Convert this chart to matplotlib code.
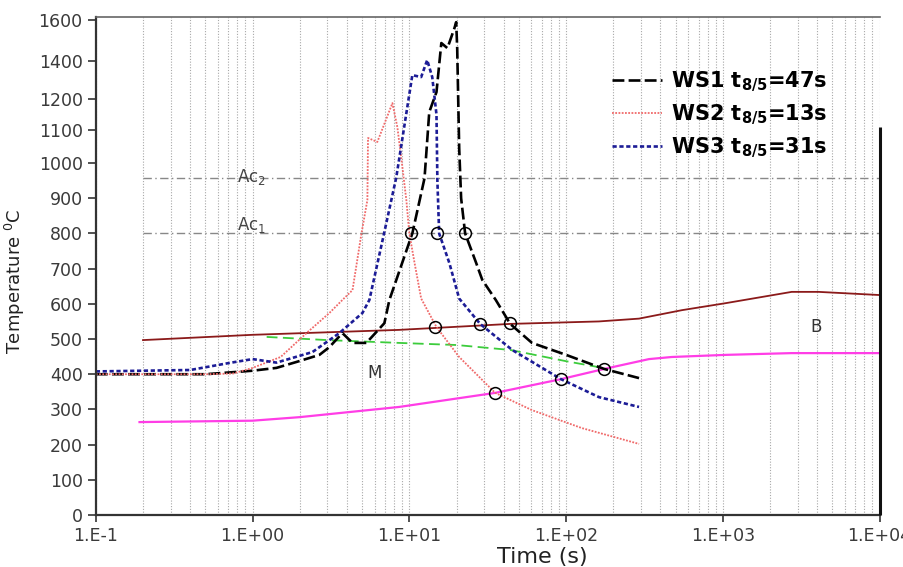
import numpy as np
import matplotlib
matplotlib.use('Agg')
import matplotlib.pyplot as plt
from matplotlib.ticker import LogLocator, FixedLocator, NullFormatter

# ------------------------------ data
# WS1 t8/5=47s
ws1_t = [0.1, 0.5, 1.0, 1.42, 1.91, 2.67, 3.09, 3.74, 4.34, 5.32, 6.16, 6.93, 7.46, 8.26,
         10.45, 12.5, 13.4, 14.9, 16.0, 17.5, 19.4, 19.9, 20.2, 20.8, 21.4, 22.7, 26.7,
         29.2, 35.6, 44.0, 60.6, 100, 175, 292]
ws1_T = [400, 400, 410, 418, 435, 455, 477, 517, 489, 489, 520, 545, 611, 668,
         800, 957, 1158, 1237, 1488, 1463, 1561, 1590, 1463, 1045, 900, 800, 716,
         668, 611, 543, 489, 455, 415, 389]
# WS2 t8/5=13s
ws2_t = [0.1, 0.5, 0.75, 1.0, 1.51, 2.21, 3.09, 3.74, 4.34, 4.95, 5.40, 5.45, 6.25, 7.8,
         8.39, 9.02, 9.57, 10.0, 10.8, 11.9, 14.9, 20.8, 35.3, 60.6, 126, 292]
ws2_T = [400, 400, 402, 418, 449, 517, 574, 611, 639, 800, 895, 1076, 1064, 1187,
         1109, 990, 895, 800, 716, 615, 534, 449, 347, 298, 247, 202]
# WS3 t8/5=31s
ws3_t = [0.1, 0.4, 0.71, 1.0, 1.42, 2.41, 3.58, 5.02, 5.56, 6.93, 8.26, 10.45, 11.9,
         13.0, 14.0, 14.9, 15.1, 15.5, 18.0, 20.8, 28.3, 45.3, 92.8, 162, 292]
ws3_T = [408, 412, 432, 443, 433, 463, 517, 574, 611, 804, 960, 1326, 1316,
         1405, 1316, 1150, 950, 800, 716, 615, 543, 469, 386, 335, 307]
# bainite start (B)
bs_t = [0.2, 1.0, 8.6, 44, 162, 292, 548, 1045, 2750, 4080, 10000]
bs_T = [497, 512, 526, 543, 550, 558, 582, 602, 634, 634, 625]
# bainite finish
bf_t = [0.19, 1.0, 1.99, 8.6, 35.3, 92.8, 175, 338, 473, 1045, 2750, 10000]
bf_T = [264, 268, 278, 307, 347, 386, 415, 443, 449, 455, 460, 460]
# martensite (M)
ms_t = [1.23, 3.0, 8.6, 20, 44, 100, 162]
ms_T = [506, 497, 489, 483, 469, 437, 420]
# transformation points
circ_t = [10.3, 15.1, 22.7, 14.6, 28.3, 44.0, 35.3, 92.8, 175]
circ_T = [800, 800, 800, 534, 543, 545, 347, 386, 415]
Ac1 = 800
Ac2 = 957

xticks = [0.1, 1, 10, 100, 1000, 10000]
xticklabels = ['1.E-1', '1.E+00', '1.E+01', '1.E+02', '1.E+03', '1.E+04']
yticks = [0, 100, 200, 300, 400, 500, 600, 700, 800, 900, 1000, 1100, 1200, 1400, 1600]

# the temperature axis of the original is stretched piecewise
yk_data = [-1000, 0, 1000, 1100, 1200, 1400, 1600, 2000]
yk_pix = [-352, 0, 352, 385, 416, 454, 495, 577]


def fwd(y):
    return np.interp(y, yk_data, yk_pix)


def inv(p):
    return np.interp(p, yk_pix, yk_data)


fig = plt.figure(figsize=(9.04, 5.67), dpi=100)
ax = fig.add_axes([0.106, 0.0917, 0.867, 0.8783])
ax.set_xscale('log')
ax.set_yscale('function', functions=(fwd, inv))
ax.set_xlim(0.1, 10000)
ax.set_ylim(0, 1615)

ax.xaxis.set_minor_locator(LogLocator(base=10, subs=np.arange(2, 10)))
ax.xaxis.set_minor_formatter(NullFormatter())
ax.grid(which='both', axis='x', color='#a8a8a8', ls=(0, (1, 1.5)), lw=0.8)
ax.set_xticks(xticks)
ax.set_xticklabels(xticklabels)
ax.yaxis.set_major_locator(FixedLocator(yticks))
ax.yaxis.set_minor_locator(FixedLocator([]))
ax.set_yticklabels([str(v) for v in yticks])
ax.tick_params(axis='both', which='major', labelsize=12.5, labelcolor='#3a3a3a', color='#333333')
ax.tick_params(axis='x', which='minor', length=0)
ax.tick_params(axis='y', length=6, width=1.2)
ax.tick_params(axis='x', length=5, width=1.2)

for s in ['left', 'bottom']:
    ax.spines[s].set_linewidth(1.6)
    ax.spines[s].set_color('#333333')
ax.spines['top'].set_color('#666666')
ax.spines['top'].set_linewidth(1.2)
ax.spines['right'].set_visible(False)
ax.vlines(10000, 0, 1110, color='#111111', lw=2.2, clip_on=False, zorder=5)

# Ac lines
ax.plot([0.2, 10000], [Ac2, Ac2], color='#888888', lw=1.0, ls=(0, (6, 2.5, 1, 2.5)))
ax.plot([0.2, 10000], [Ac1, Ac1], color='#888888', lw=1.0, ls=(0, (6, 2.5, 1, 2.5)))
ax.text(0.79, 945, 'Ac$_2$', fontsize=12, color='#444444')
ax.text(0.79, 810, 'Ac$_1$', fontsize=12, color='#444444')

# transformation lines
ax.plot(bs_t, bs_T, color='#8b1a1a', lw=1.3)
ax.plot(bf_t, bf_T, color='#ff3de6', lw=1.6)
ax.plot(ms_t, ms_T, color='#3ccc3c', lw=1.3, ls=(0, (6, 3)))
ax.text(5.96, 403, 'M', fontsize=12, color='#333333', ha='center', va='center')
ax.text(3910, 534, 'B', fontsize=12, color='#333333', ha='center', va='center')

# cooling curves
l1, = ax.plot(ws1_t, ws1_T, color='black', lw=1.9, ls=(0, (4.5, 1.6)))
l2, = ax.plot(ws2_t, ws2_T, color='#f06a6a', lw=1.3, ls=(0, (1, 0.8)))
l3, = ax.plot(ws3_t, ws3_T, color='#1c1c96', lw=1.9, ls=(0, (1.6, 1.0)))
ax.plot(circ_t, circ_T, ls='none', marker='o', ms=8.5, mfc='none', mec='black', mew=1.1, zorder=6)

leg = ax.legend([l1, l2, l3],
                [r'WS1 t$_{\mathbf{8/5}}$=47s', r'WS2 t$_{\mathbf{8/5}}$=13s', r'WS3 t$_{\mathbf{8/5}}$=31s'],
                loc='upper left', bbox_to_anchor=(0.648, 0.91), frameon=False,
                prop={'weight': 'bold', 'size': 15}, handlelength=2.4, handletextpad=0.45,
                labelspacing=0.42, borderaxespad=0)

ax.set_xlabel('Time (s)', fontsize=16, color='#222222')
ax.xaxis.set_label_coords(0.57, -0.065)
ax.set_ylabel('Temperature $^{0}$C', fontsize=13, color='#222222')
ax.yaxis.set_label_coords(-0.088, 0.47)

fig.savefig('out.png', dpi=100)
